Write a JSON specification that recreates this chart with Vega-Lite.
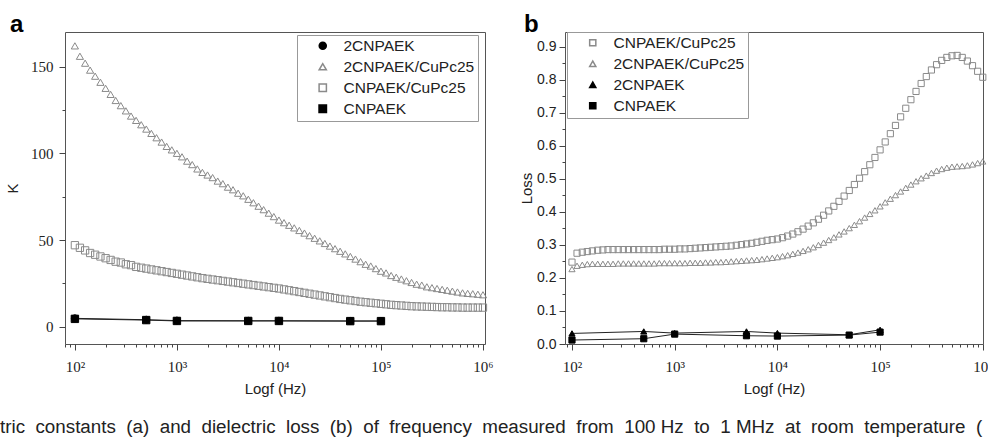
{
"$schema": "https://vega.github.io/schema/vega-lite/v6.json",
"background": "white",
"padding": {"left": 0, "top": 12, "right": 0, "bottom": 2},
"autosize": {"type": "pad"},
"config": {
  "view": {"stroke": "#555", "strokeWidth": 1},
  "axis": {"domain": false, "grid": false, "tickColor": "#444", "tickWidth": 1, "labelColor": "#222", "titleColor": "#222", "titleFontWeight": "normal", "labelFont": "Liberation Serif", "labelFontSize": 15, "titleFont": "Liberation Sans", "titleFontSize": 15, "labelOverlap": false, "labelFlush": false},
  "legend": {"labelFont": "Liberation Sans", "labelFontSize": 15.5, "labelColor": "#222", "strokeColor": "#999", "fillColor": "white", "padding": 3, "rowPadding": 4, "symbolSize": 36, "symbolOffset": 15, "labelOffset": 13}
},
"title": {"text": "tric \u00a0constants \u00a0(a) \u00a0and \u00a0dielectric \u00a0loss \u00a0(b) \u00a0of \u00a0frequency \u00a0measured \u00a0from \u00a0100 Hz \u00a0to \u00a01 MHz \u00a0at \u00a0room \u00a0temperature \u00a0(", "orient": "bottom", "anchor": "start", "frame": "bounds", "font": "Liberation Sans", "fontSize": 18.8, "fontWeight": "normal", "color": "#222", "offset": 21, "dx": -5},
"spacing": 25,
"resolve": {"scale": {"shape": "independent", "stroke": "independent", "fill": "independent", "size": "independent"}, "legend": {"shape": "independent", "stroke": "independent", "fill": "independent", "size": "independent"}},
"datasets": {
"ka": [
{"s":"2CNPAEK/CuPc25","f":100,"v":162},{"s":"2CNPAEK/CuPc25","f":112,"v":156},{"s":"2CNPAEK/CuPc25","f":126,"v":152},{"s":"2CNPAEK/CuPc25","f":141,"v":148},{"s":"2CNPAEK/CuPc25","f":158,"v":144.5},{"s":"2CNPAEK/CuPc25","f":178,"v":141},{"s":"2CNPAEK/CuPc25","f":200,"v":137.5},{"s":"2CNPAEK/CuPc25","f":224,"v":134},{"s":"2CNPAEK/CuPc25","f":251,"v":130.5},{"s":"2CNPAEK/CuPc25","f":282,"v":127.5},
{"s":"2CNPAEK/CuPc25","f":316,"v":124.5},{"s":"2CNPAEK/CuPc25","f":355,"v":121.5},{"s":"2CNPAEK/CuPc25","f":398,"v":119},{"s":"2CNPAEK/CuPc25","f":447,"v":116.5},{"s":"2CNPAEK/CuPc25","f":501,"v":114},{"s":"2CNPAEK/CuPc25","f":562,"v":111.5},{"s":"2CNPAEK/CuPc25","f":631,"v":109},{"s":"2CNPAEK/CuPc25","f":708,"v":106.5},{"s":"2CNPAEK/CuPc25","f":794,"v":104},{"s":"2CNPAEK/CuPc25","f":891,"v":102},
{"s":"2CNPAEK/CuPc25","f":1000,"v":100},{"s":"2CNPAEK/CuPc25","f":1122,"v":98},{"s":"2CNPAEK/CuPc25","f":1259,"v":95.5},{"s":"2CNPAEK/CuPc25","f":1413,"v":93.5},{"s":"2CNPAEK/CuPc25","f":1585,"v":91},{"s":"2CNPAEK/CuPc25","f":1778,"v":89},{"s":"2CNPAEK/CuPc25","f":1995,"v":87.5},{"s":"2CNPAEK/CuPc25","f":2239,"v":86},{"s":"2CNPAEK/CuPc25","f":2512,"v":84},{"s":"2CNPAEK/CuPc25","f":2818,"v":82.5},
{"s":"2CNPAEK/CuPc25","f":3162,"v":80.5},{"s":"2CNPAEK/CuPc25","f":3548,"v":79},{"s":"2CNPAEK/CuPc25","f":3981,"v":77},{"s":"2CNPAEK/CuPc25","f":4467,"v":75.5},{"s":"2CNPAEK/CuPc25","f":5012,"v":73.5},{"s":"2CNPAEK/CuPc25","f":5623,"v":71.5},{"s":"2CNPAEK/CuPc25","f":6310,"v":69.5},{"s":"2CNPAEK/CuPc25","f":7079,"v":67.5},{"s":"2CNPAEK/CuPc25","f":7943,"v":65.5},{"s":"2CNPAEK/CuPc25","f":8913,"v":63.5},
{"s":"2CNPAEK/CuPc25","f":10000,"v":61.5},{"s":"2CNPAEK/CuPc25","f":11220,"v":60},{"s":"2CNPAEK/CuPc25","f":12589,"v":58.5},{"s":"2CNPAEK/CuPc25","f":14125,"v":57},{"s":"2CNPAEK/CuPc25","f":15849,"v":55.5},{"s":"2CNPAEK/CuPc25","f":17783,"v":54},{"s":"2CNPAEK/CuPc25","f":19953,"v":52.5},{"s":"2CNPAEK/CuPc25","f":22387,"v":51},{"s":"2CNPAEK/CuPc25","f":25119,"v":49.5},{"s":"2CNPAEK/CuPc25","f":28184,"v":48},
{"s":"2CNPAEK/CuPc25","f":31623,"v":46.5},{"s":"2CNPAEK/CuPc25","f":35481,"v":45},{"s":"2CNPAEK/CuPc25","f":39811,"v":43.5},{"s":"2CNPAEK/CuPc25","f":44668,"v":42},{"s":"2CNPAEK/CuPc25","f":50119,"v":40.5},{"s":"2CNPAEK/CuPc25","f":56234,"v":39},{"s":"2CNPAEK/CuPc25","f":63096,"v":37.5},{"s":"2CNPAEK/CuPc25","f":70795,"v":36},{"s":"2CNPAEK/CuPc25","f":79433,"v":35},{"s":"2CNPAEK/CuPc25","f":89125,"v":33.5},
{"s":"2CNPAEK/CuPc25","f":100000,"v":32},{"s":"2CNPAEK/CuPc25","f":112202,"v":31},{"s":"2CNPAEK/CuPc25","f":125893,"v":29.5},{"s":"2CNPAEK/CuPc25","f":141254,"v":28.5},{"s":"2CNPAEK/CuPc25","f":158489,"v":27.5},{"s":"2CNPAEK/CuPc25","f":177828,"v":26.5},{"s":"2CNPAEK/CuPc25","f":199526,"v":25.5},{"s":"2CNPAEK/CuPc25","f":223872,"v":24.5},{"s":"2CNPAEK/CuPc25","f":251189,"v":24},{"s":"2CNPAEK/CuPc25","f":281838,"v":23},
{"s":"2CNPAEK/CuPc25","f":316228,"v":22.5},{"s":"2CNPAEK/CuPc25","f":354813,"v":22},{"s":"2CNPAEK/CuPc25","f":398107,"v":21.5},{"s":"2CNPAEK/CuPc25","f":446684,"v":21},{"s":"2CNPAEK/CuPc25","f":501187,"v":20.5},{"s":"2CNPAEK/CuPc25","f":562341,"v":20},{"s":"2CNPAEK/CuPc25","f":630957,"v":19.5},{"s":"2CNPAEK/CuPc25","f":707946,"v":19.2},{"s":"2CNPAEK/CuPc25","f":794328,"v":19},{"s":"2CNPAEK/CuPc25","f":891251,"v":18.7},
{"s":"2CNPAEK/CuPc25","f":1000000,"v":18.4},
{"s":"CNPAEK/CuPc25","f":100,"v":47},{"s":"CNPAEK/CuPc25","f":112,"v":45.5},{"s":"CNPAEK/CuPc25","f":126,"v":44},{"s":"CNPAEK/CuPc25","f":141,"v":42.5},{"s":"CNPAEK/CuPc25","f":158,"v":41.5},{"s":"CNPAEK/CuPc25","f":178,"v":40.5},{"s":"CNPAEK/CuPc25","f":200,"v":39.5},{"s":"CNPAEK/CuPc25","f":224,"v":38.5},{"s":"CNPAEK/CuPc25","f":251,"v":37.5},{"s":"CNPAEK/CuPc25","f":282,"v":37},
{"s":"CNPAEK/CuPc25","f":316,"v":36},{"s":"CNPAEK/CuPc25","f":355,"v":35.5},{"s":"CNPAEK/CuPc25","f":398,"v":34.5},{"s":"CNPAEK/CuPc25","f":447,"v":34},{"s":"CNPAEK/CuPc25","f":501,"v":33.5},{"s":"CNPAEK/CuPc25","f":562,"v":33},{"s":"CNPAEK/CuPc25","f":631,"v":32.5},{"s":"CNPAEK/CuPc25","f":708,"v":32},{"s":"CNPAEK/CuPc25","f":794,"v":31.5},{"s":"CNPAEK/CuPc25","f":891,"v":31},
{"s":"CNPAEK/CuPc25","f":1000,"v":30.5},{"s":"CNPAEK/CuPc25","f":1122,"v":30},{"s":"CNPAEK/CuPc25","f":1259,"v":29.5},{"s":"CNPAEK/CuPc25","f":1413,"v":29},{"s":"CNPAEK/CuPc25","f":1585,"v":28.5},{"s":"CNPAEK/CuPc25","f":1778,"v":28},{"s":"CNPAEK/CuPc25","f":1995,"v":27.6},{"s":"CNPAEK/CuPc25","f":2239,"v":27.2},{"s":"CNPAEK/CuPc25","f":2512,"v":26.8},{"s":"CNPAEK/CuPc25","f":2818,"v":26.4},
{"s":"CNPAEK/CuPc25","f":3162,"v":26},{"s":"CNPAEK/CuPc25","f":3548,"v":25.6},{"s":"CNPAEK/CuPc25","f":3981,"v":25.2},{"s":"CNPAEK/CuPc25","f":4467,"v":24.8},{"s":"CNPAEK/CuPc25","f":5012,"v":24.4},{"s":"CNPAEK/CuPc25","f":5623,"v":24},{"s":"CNPAEK/CuPc25","f":6310,"v":23.6},{"s":"CNPAEK/CuPc25","f":7079,"v":23.2},{"s":"CNPAEK/CuPc25","f":7943,"v":22.8},{"s":"CNPAEK/CuPc25","f":8913,"v":22.4},
{"s":"CNPAEK/CuPc25","f":10000,"v":22},{"s":"CNPAEK/CuPc25","f":11220,"v":21.5},{"s":"CNPAEK/CuPc25","f":12589,"v":21},{"s":"CNPAEK/CuPc25","f":14125,"v":20.5},{"s":"CNPAEK/CuPc25","f":15849,"v":20},{"s":"CNPAEK/CuPc25","f":17783,"v":19.5},{"s":"CNPAEK/CuPc25","f":19953,"v":19},{"s":"CNPAEK/CuPc25","f":22387,"v":18.5},{"s":"CNPAEK/CuPc25","f":25119,"v":18},{"s":"CNPAEK/CuPc25","f":28184,"v":17.5},
{"s":"CNPAEK/CuPc25","f":31623,"v":17},{"s":"CNPAEK/CuPc25","f":35481,"v":16.5},{"s":"CNPAEK/CuPc25","f":39811,"v":16},{"s":"CNPAEK/CuPc25","f":44668,"v":15.6},{"s":"CNPAEK/CuPc25","f":50119,"v":15.2},{"s":"CNPAEK/CuPc25","f":56234,"v":14.8},{"s":"CNPAEK/CuPc25","f":63096,"v":14.4},{"s":"CNPAEK/CuPc25","f":70795,"v":14.1},{"s":"CNPAEK/CuPc25","f":79433,"v":13.8},{"s":"CNPAEK/CuPc25","f":89125,"v":13.5},
{"s":"CNPAEK/CuPc25","f":100000,"v":13.2},{"s":"CNPAEK/CuPc25","f":112202,"v":12.9},{"s":"CNPAEK/CuPc25","f":125893,"v":12.6},{"s":"CNPAEK/CuPc25","f":141254,"v":12.4},{"s":"CNPAEK/CuPc25","f":158489,"v":12.2},{"s":"CNPAEK/CuPc25","f":177828,"v":12},{"s":"CNPAEK/CuPc25","f":199526,"v":11.8},{"s":"CNPAEK/CuPc25","f":223872,"v":11.7},{"s":"CNPAEK/CuPc25","f":251189,"v":11.6},{"s":"CNPAEK/CuPc25","f":281838,"v":11.5},
{"s":"CNPAEK/CuPc25","f":316228,"v":11.4},{"s":"CNPAEK/CuPc25","f":354813,"v":11.3},{"s":"CNPAEK/CuPc25","f":398107,"v":11.2},{"s":"CNPAEK/CuPc25","f":446684,"v":11.2},{"s":"CNPAEK/CuPc25","f":501187,"v":11.1},{"s":"CNPAEK/CuPc25","f":562341,"v":11.1},{"s":"CNPAEK/CuPc25","f":630957,"v":11},{"s":"CNPAEK/CuPc25","f":707946,"v":11},{"s":"CNPAEK/CuPc25","f":794328,"v":11},{"s":"CNPAEK/CuPc25","f":891251,"v":11},
{"s":"CNPAEK/CuPc25","f":1000000,"v":11},
{"s":"2CNPAEK","f":100,"v":4.8},{"s":"2CNPAEK","f":500,"v":4.0},{"s":"2CNPAEK","f":1000,"v":3.5},{"s":"2CNPAEK","f":5000,"v":3.4},{"s":"2CNPAEK","f":10000,"v":3.4},{"s":"2CNPAEK","f":50000,"v":3.3},{"s":"2CNPAEK","f":100000,"v":3.3},
{"s":"CNPAEK","f":100,"v":4.5},{"s":"CNPAEK","f":500,"v":3.8},{"s":"CNPAEK","f":1000,"v":3.3},{"s":"CNPAEK","f":5000,"v":3.3},{"s":"CNPAEK","f":10000,"v":3.3},{"s":"CNPAEK","f":50000,"v":3.2},{"s":"CNPAEK","f":100000,"v":3.2}
],
"lb": [
{"s":"CNPAEK/CuPc25","f":100,"v":0.248},{"s":"CNPAEK/CuPc25","f":112,"v":0.275},{"s":"CNPAEK/CuPc25","f":126,"v":0.278},{"s":"CNPAEK/CuPc25","f":141,"v":0.28},{"s":"CNPAEK/CuPc25","f":158,"v":0.282},{"s":"CNPAEK/CuPc25","f":178,"v":0.284},{"s":"CNPAEK/CuPc25","f":200,"v":0.285},{"s":"CNPAEK/CuPc25","f":224,"v":0.286},{"s":"CNPAEK/CuPc25","f":251,"v":0.286},{"s":"CNPAEK/CuPc25","f":282,"v":0.286},
{"s":"CNPAEK/CuPc25","f":316,"v":0.286},{"s":"CNPAEK/CuPc25","f":355,"v":0.286},{"s":"CNPAEK/CuPc25","f":398,"v":0.286},{"s":"CNPAEK/CuPc25","f":447,"v":0.286},{"s":"CNPAEK/CuPc25","f":501,"v":0.286},{"s":"CNPAEK/CuPc25","f":562,"v":0.286},{"s":"CNPAEK/CuPc25","f":631,"v":0.286},{"s":"CNPAEK/CuPc25","f":708,"v":0.286},{"s":"CNPAEK/CuPc25","f":794,"v":0.287},{"s":"CNPAEK/CuPc25","f":891,"v":0.287},
{"s":"CNPAEK/CuPc25","f":1000,"v":0.287},{"s":"CNPAEK/CuPc25","f":1122,"v":0.288},{"s":"CNPAEK/CuPc25","f":1259,"v":0.288},{"s":"CNPAEK/CuPc25","f":1413,"v":0.289},{"s":"CNPAEK/CuPc25","f":1585,"v":0.29},{"s":"CNPAEK/CuPc25","f":1778,"v":0.291},{"s":"CNPAEK/CuPc25","f":1995,"v":0.292},{"s":"CNPAEK/CuPc25","f":2239,"v":0.293},{"s":"CNPAEK/CuPc25","f":2512,"v":0.294},{"s":"CNPAEK/CuPc25","f":2818,"v":0.295},
{"s":"CNPAEK/CuPc25","f":3162,"v":0.296},{"s":"CNPAEK/CuPc25","f":3548,"v":0.297},{"s":"CNPAEK/CuPc25","f":3981,"v":0.299},{"s":"CNPAEK/CuPc25","f":4467,"v":0.301},{"s":"CNPAEK/CuPc25","f":5012,"v":0.303},{"s":"CNPAEK/CuPc25","f":5623,"v":0.305},{"s":"CNPAEK/CuPc25","f":6310,"v":0.308},{"s":"CNPAEK/CuPc25","f":7079,"v":0.311},{"s":"CNPAEK/CuPc25","f":7943,"v":0.314},{"s":"CNPAEK/CuPc25","f":8913,"v":0.316},
{"s":"CNPAEK/CuPc25","f":10000,"v":0.318},{"s":"CNPAEK/CuPc25","f":11220,"v":0.322},{"s":"CNPAEK/CuPc25","f":12589,"v":0.327},{"s":"CNPAEK/CuPc25","f":14125,"v":0.333},{"s":"CNPAEK/CuPc25","f":15849,"v":0.34},{"s":"CNPAEK/CuPc25","f":17783,"v":0.348},{"s":"CNPAEK/CuPc25","f":19953,"v":0.357},{"s":"CNPAEK/CuPc25","f":22387,"v":0.367},{"s":"CNPAEK/CuPc25","f":25119,"v":0.378},{"s":"CNPAEK/CuPc25","f":28184,"v":0.39},
{"s":"CNPAEK/CuPc25","f":31623,"v":0.403},{"s":"CNPAEK/CuPc25","f":35481,"v":0.417},{"s":"CNPAEK/CuPc25","f":39811,"v":0.432},{"s":"CNPAEK/CuPc25","f":44668,"v":0.448},{"s":"CNPAEK/CuPc25","f":50119,"v":0.465},{"s":"CNPAEK/CuPc25","f":56234,"v":0.483},{"s":"CNPAEK/CuPc25","f":63096,"v":0.502},{"s":"CNPAEK/CuPc25","f":70795,"v":0.522},{"s":"CNPAEK/CuPc25","f":79433,"v":0.543},{"s":"CNPAEK/CuPc25","f":89125,"v":0.565},
{"s":"CNPAEK/CuPc25","f":100000,"v":0.588},{"s":"CNPAEK/CuPc25","f":112202,"v":0.612},{"s":"CNPAEK/CuPc25","f":125893,"v":0.637},{"s":"CNPAEK/CuPc25","f":141254,"v":0.662},{"s":"CNPAEK/CuPc25","f":158489,"v":0.688},{"s":"CNPAEK/CuPc25","f":177828,"v":0.714},{"s":"CNPAEK/CuPc25","f":199526,"v":0.74},{"s":"CNPAEK/CuPc25","f":223872,"v":0.765},{"s":"CNPAEK/CuPc25","f":251189,"v":0.789},{"s":"CNPAEK/CuPc25","f":281838,"v":0.81},
{"s":"CNPAEK/CuPc25","f":316228,"v":0.83},{"s":"CNPAEK/CuPc25","f":354813,"v":0.846},{"s":"CNPAEK/CuPc25","f":398107,"v":0.859},{"s":"CNPAEK/CuPc25","f":446684,"v":0.868},{"s":"CNPAEK/CuPc25","f":501187,"v":0.873},{"s":"CNPAEK/CuPc25","f":562341,"v":0.874},{"s":"CNPAEK/CuPc25","f":630957,"v":0.868},{"s":"CNPAEK/CuPc25","f":707946,"v":0.857},{"s":"CNPAEK/CuPc25","f":794328,"v":0.843},{"s":"CNPAEK/CuPc25","f":891251,"v":0.826},
{"s":"CNPAEK/CuPc25","f":1000000,"v":0.808},
{"s":"2CNPAEK/CuPc25","f":100,"v":0.227},{"s":"2CNPAEK/CuPc25","f":112,"v":0.237},{"s":"2CNPAEK/CuPc25","f":126,"v":0.24},{"s":"2CNPAEK/CuPc25","f":141,"v":0.242},{"s":"2CNPAEK/CuPc25","f":158,"v":0.243},{"s":"2CNPAEK/CuPc25","f":178,"v":0.243},{"s":"2CNPAEK/CuPc25","f":200,"v":0.243},{"s":"2CNPAEK/CuPc25","f":224,"v":0.243},{"s":"2CNPAEK/CuPc25","f":251,"v":0.243},{"s":"2CNPAEK/CuPc25","f":282,"v":0.244},
{"s":"2CNPAEK/CuPc25","f":316,"v":0.244},{"s":"2CNPAEK/CuPc25","f":355,"v":0.244},{"s":"2CNPAEK/CuPc25","f":398,"v":0.244},{"s":"2CNPAEK/CuPc25","f":447,"v":0.244},{"s":"2CNPAEK/CuPc25","f":501,"v":0.244},{"s":"2CNPAEK/CuPc25","f":562,"v":0.244},{"s":"2CNPAEK/CuPc25","f":631,"v":0.244},{"s":"2CNPAEK/CuPc25","f":708,"v":0.245},{"s":"2CNPAEK/CuPc25","f":794,"v":0.245},{"s":"2CNPAEK/CuPc25","f":891,"v":0.245},
{"s":"2CNPAEK/CuPc25","f":1000,"v":0.245},{"s":"2CNPAEK/CuPc25","f":1122,"v":0.245},{"s":"2CNPAEK/CuPc25","f":1259,"v":0.245},{"s":"2CNPAEK/CuPc25","f":1413,"v":0.246},{"s":"2CNPAEK/CuPc25","f":1585,"v":0.246},{"s":"2CNPAEK/CuPc25","f":1778,"v":0.246},{"s":"2CNPAEK/CuPc25","f":1995,"v":0.247},{"s":"2CNPAEK/CuPc25","f":2239,"v":0.247},{"s":"2CNPAEK/CuPc25","f":2512,"v":0.248},{"s":"2CNPAEK/CuPc25","f":2818,"v":0.248},
{"s":"2CNPAEK/CuPc25","f":3162,"v":0.249},{"s":"2CNPAEK/CuPc25","f":3548,"v":0.25},{"s":"2CNPAEK/CuPc25","f":3981,"v":0.251},{"s":"2CNPAEK/CuPc25","f":4467,"v":0.252},{"s":"2CNPAEK/CuPc25","f":5012,"v":0.253},{"s":"2CNPAEK/CuPc25","f":5623,"v":0.254},{"s":"2CNPAEK/CuPc25","f":6310,"v":0.255},{"s":"2CNPAEK/CuPc25","f":7079,"v":0.257},{"s":"2CNPAEK/CuPc25","f":7943,"v":0.259},{"s":"2CNPAEK/CuPc25","f":8913,"v":0.261},
{"s":"2CNPAEK/CuPc25","f":10000,"v":0.263},{"s":"2CNPAEK/CuPc25","f":11220,"v":0.266},{"s":"2CNPAEK/CuPc25","f":12589,"v":0.269},{"s":"2CNPAEK/CuPc25","f":14125,"v":0.273},{"s":"2CNPAEK/CuPc25","f":15849,"v":0.277},{"s":"2CNPAEK/CuPc25","f":17783,"v":0.282},{"s":"2CNPAEK/CuPc25","f":19953,"v":0.287},{"s":"2CNPAEK/CuPc25","f":22387,"v":0.293},{"s":"2CNPAEK/CuPc25","f":25119,"v":0.3},{"s":"2CNPAEK/CuPc25","f":28184,"v":0.307},
{"s":"2CNPAEK/CuPc25","f":31623,"v":0.315},{"s":"2CNPAEK/CuPc25","f":35481,"v":0.323},{"s":"2CNPAEK/CuPc25","f":39811,"v":0.332},{"s":"2CNPAEK/CuPc25","f":44668,"v":0.341},{"s":"2CNPAEK/CuPc25","f":50119,"v":0.351},{"s":"2CNPAEK/CuPc25","f":56234,"v":0.361},{"s":"2CNPAEK/CuPc25","f":63096,"v":0.372},{"s":"2CNPAEK/CuPc25","f":70795,"v":0.383},{"s":"2CNPAEK/CuPc25","f":79433,"v":0.394},{"s":"2CNPAEK/CuPc25","f":89125,"v":0.405},
{"s":"2CNPAEK/CuPc25","f":100000,"v":0.417},{"s":"2CNPAEK/CuPc25","f":112202,"v":0.429},{"s":"2CNPAEK/CuPc25","f":125893,"v":0.44},{"s":"2CNPAEK/CuPc25","f":141254,"v":0.451},{"s":"2CNPAEK/CuPc25","f":158489,"v":0.462},{"s":"2CNPAEK/CuPc25","f":177828,"v":0.473},{"s":"2CNPAEK/CuPc25","f":199526,"v":0.483},{"s":"2CNPAEK/CuPc25","f":223872,"v":0.493},{"s":"2CNPAEK/CuPc25","f":251189,"v":0.502},{"s":"2CNPAEK/CuPc25","f":281838,"v":0.51},
{"s":"2CNPAEK/CuPc25","f":316228,"v":0.518},{"s":"2CNPAEK/CuPc25","f":354813,"v":0.525},{"s":"2CNPAEK/CuPc25","f":398107,"v":0.53},{"s":"2CNPAEK/CuPc25","f":446684,"v":0.534},{"s":"2CNPAEK/CuPc25","f":501187,"v":0.537},{"s":"2CNPAEK/CuPc25","f":562341,"v":0.538},{"s":"2CNPAEK/CuPc25","f":630957,"v":0.539},{"s":"2CNPAEK/CuPc25","f":707946,"v":0.541},{"s":"2CNPAEK/CuPc25","f":794328,"v":0.544},{"s":"2CNPAEK/CuPc25","f":891251,"v":0.548},
{"s":"2CNPAEK/CuPc25","f":1000000,"v":0.553},
{"s":"2CNPAEK","f":100,"v":0.032},{"s":"2CNPAEK","f":500,"v":0.038},{"s":"2CNPAEK","f":1000,"v":0.033},{"s":"2CNPAEK","f":5000,"v":0.038},{"s":"2CNPAEK","f":10000,"v":0.033},{"s":"2CNPAEK","f":50000,"v":0.028},{"s":"2CNPAEK","f":100000,"v":0.043},
{"s":"CNPAEK","f":100,"v":0.012},{"s":"CNPAEK","f":500,"v":0.016},{"s":"CNPAEK","f":1000,"v":0.03},{"s":"CNPAEK","f":5000,"v":0.025},{"s":"CNPAEK","f":10000,"v":0.024},{"s":"CNPAEK","f":50000,"v":0.027},{"s":"CNPAEK","f":100000,"v":0.036}
]
},
"hconcat": [
{
  "width": 420, "height": 312,
  "title": {"text": "a", "anchor": "start", "frame": "group", "dx": -55, "offset": -5, "font": "Liberation Sans", "fontSize": 24, "fontWeight": "bold", "color": "#000"},
  "data": {"name": "ka"},
  "encoding": {
    "x": {"field": "f", "type": "quantitative", "scale": {"type": "log", "domain": [80, 1047000], "nice": false},
      "axis": {"title": "Logf (Hz)", "titlePadding": 7, "labelPadding": 9,
        "values": [80,90,100,200,300,400,500,600,700,800,900,1000,2000,3000,4000,5000,6000,7000,8000,9000,10000,20000,30000,40000,50000,60000,70000,80000,90000,100000,200000,300000,400000,500000,600000,700000,800000,900000,1000000],
        "labelExpr": "datum.value === 100 ? '10²' : datum.value === 1000 ? '10³' : datum.value === 10000 ? '10⁴' : datum.value === 100000 ? '10⁵' : datum.value === 1000000 ? '10⁶' : ''",
        "tickSize": {"condition": {"test": "indexof([100,1000,10000,100000,1000000], datum.value) >= 0", "value": 6}, "value": 3}}},
    "y": {"field": "v", "type": "quantitative", "scale": {"domain": [-10, 170], "nice": false, "zero": false},
      "axis": {"title": "K", "titlePadding": 10, "labelPadding": 6, "values": [0,25,50,75,100,125,150],
        "labelExpr": "datum.value % 50 === 0 ? datum.label : ''",
        "tickSize": {"condition": {"test": "datum.value % 50 === 0", "value": 6}, "value": 3}}}
  },
  "layer": [
    {"transform": [{"filter": "datum.s === '2CNPAEK' || datum.s === 'CNPAEK'"}],
     "mark": {"type": "line", "color": "#222", "strokeWidth": 1},
     "encoding": {"detail": {"field": "s"}}},
    {"mark": {"type": "point", "filled": true, "opacity": 1, "strokeWidth": 1},
     "encoding": {
       "shape": {"field": "s", "type": "nominal", "scale": {"domain": ["2CNPAEK","2CNPAEK/CuPc25","CNPAEK/CuPc25","CNPAEK"], "range": ["circle","triangle-up","square","square"]},
         "legend": {"orient": "none", "legendX": 232, "legendY": 3, "title": null}},
       "stroke": {"field": "s", "type": "nominal", "scale": {"domain": ["2CNPAEK","2CNPAEK/CuPc25","CNPAEK/CuPc25","CNPAEK"], "range": ["#000","#8a8a8a","#8a8a8a","#000"]},
         "legend": {"orient": "none", "legendX": 232, "legendY": 3, "title": null}},
       "fill": {"field": "s", "type": "nominal", "scale": {"domain": ["2CNPAEK","2CNPAEK/CuPc25","CNPAEK/CuPc25","CNPAEK"], "range": ["#000","transparent","transparent","#000"]},
         "legend": {"orient": "none", "legendX": 232, "legendY": 3, "title": null}},
       "size": {"field": "s", "type": "nominal", "scale": {"domain": ["2CNPAEK","2CNPAEK/CuPc25","CNPAEK/CuPc25","CNPAEK"], "range": [50,55,38,50]},
         "legend": {"orient": "none", "legendX": 232, "legendY": 3, "title": null}}
     }}
  ]
},
{
  "width": 418, "height": 312,
  "title": {"text": "b", "anchor": "start", "frame": "group", "dx": -41, "offset": -5, "font": "Liberation Sans", "fontSize": 24, "fontWeight": "bold", "color": "#000"},
  "data": {"name": "lb"},
  "encoding": {
    "x": {"field": "f", "type": "quantitative", "scale": {"type": "log", "domain": [85.5, 1005000], "nice": false},
      "axis": {"title": "Logf (Hz)", "titlePadding": 7, "labelPadding": 9,
        "values": [90,100,200,300,400,500,600,700,800,900,1000,2000,3000,4000,5000,6000,7000,8000,9000,10000,20000,30000,40000,50000,60000,70000,80000,90000,100000,200000,300000,400000,500000,600000,700000,800000,900000,1000000],
        "labelExpr": "datum.value === 100 ? '10²' : datum.value === 1000 ? '10³' : datum.value === 10000 ? '10⁴' : datum.value === 100000 ? '10⁵' : datum.value === 1000000 ? '10⁶' : ''",
        "tickSize": {"condition": {"test": "indexof([100,1000,10000,100000,1000000], datum.value) >= 0", "value": 6}, "value": 3}}},
    "y": {"field": "v", "type": "quantitative", "scale": {"domain": [0, 0.945], "nice": false, "zero": false},
      "axis": {"title": "Loss", "titlePadding": 2, "labelPadding": 3, "labelFont": "Liberation Sans", "labelFontSize": 14,
        "values": [0,0.05,0.1,0.15,0.2,0.25,0.3,0.35,0.4,0.45,0.5,0.55,0.6,0.65,0.7,0.75,0.8,0.85,0.9],
        "labelExpr": "round(datum.value * 100) % 10 === 0 ? format(datum.value, '.1f') : ''",
        "tickSize": {"condition": {"test": "round(datum.value * 100) % 10 === 0", "value": 6}, "value": 3}}}
  },
  "layer": [
    {"transform": [{"filter": "datum.s === '2CNPAEK' || datum.s === 'CNPAEK'"}],
     "mark": {"type": "line", "color": "#222", "strokeWidth": 1},
     "encoding": {"detail": {"field": "s"}}},
    {"mark": {"type": "point", "filled": true, "opacity": 1, "strokeWidth": 1},
     "encoding": {
       "shape": {"field": "s", "type": "nominal", "scale": {"domain": ["CNPAEK/CuPc25","2CNPAEK/CuPc25","2CNPAEK","CNPAEK"], "range": ["square","triangle-up","triangle-up","square"]},
         "legend": {"orient": "none", "legendX": 2, "legendY": 0, "title": null}},
       "stroke": {"field": "s", "type": "nominal", "scale": {"domain": ["CNPAEK/CuPc25","2CNPAEK/CuPc25","2CNPAEK","CNPAEK"], "range": ["#8a8a8a","#8a8a8a","#000","#000"]},
         "legend": {"orient": "none", "legendX": 2, "legendY": 0, "title": null}},
       "fill": {"field": "s", "type": "nominal", "scale": {"domain": ["CNPAEK/CuPc25","2CNPAEK/CuPc25","2CNPAEK","CNPAEK"], "range": ["transparent","transparent","#000","#000"]},
         "legend": {"orient": "none", "legendX": 2, "legendY": 0, "title": null}},
       "size": {"field": "s", "type": "nominal", "scale": {"domain": ["CNPAEK/CuPc25","2CNPAEK/CuPc25","2CNPAEK","CNPAEK"], "range": [38,38,55,50]},
         "legend": {"orient": "none", "legendX": 2, "legendY": 0, "title": null}}
     }}
  ]
}
]
}
